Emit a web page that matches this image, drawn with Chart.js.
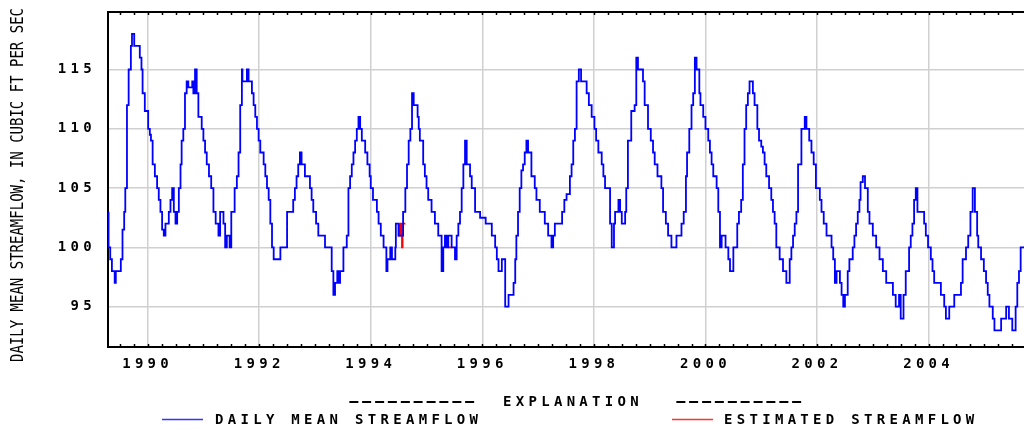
<!DOCTYPE html>
<html>
<head>
<meta charset="utf-8">
<script src="https://cdn.jsdelivr.net/npm/chart.js@4/dist/chart.umd.min.js"></script>
<style>
  html, body { margin: 0; padding: 0; background: #fff; }
  #wrap { width: 1024px; height: 432px; position: relative; }
</style>
</head>
<body>
<div id="wrap"><canvas id="flowChart"></canvas></div>
<script>
// Daily mean streamflow (decimal year -> cfs)
var flowYears = [
    1989.30, 1989.33, 1989.36, 1989.41, 1989.43, 1989.52, 1989.55, 1989.58, 1989.60, 1989.63,
    1989.66, 1989.70, 1989.72, 1989.76, 1989.86, 1989.89, 1989.91, 1989.95, 1990.01, 1990.04,
    1990.06, 1990.09, 1990.13, 1990.17, 1990.20, 1990.23, 1990.26, 1990.29, 1990.32, 1990.38,
    1990.41, 1990.44, 1990.47, 1990.50, 1990.53, 1990.56, 1990.59, 1990.61, 1990.64, 1990.67,
    1990.70, 1990.73, 1990.80, 1990.82, 1990.85, 1990.88, 1990.91, 1990.97, 1991.00, 1991.03,
    1991.06, 1991.10, 1991.14, 1991.18, 1991.22, 1991.27, 1991.30, 1991.36, 1991.39, 1991.42,
    1991.47, 1991.50, 1991.56, 1991.60, 1991.63, 1991.66, 1991.69, 1991.70, 1991.78, 1991.81,
    1991.84, 1991.87, 1991.90, 1991.93, 1991.96, 1991.99, 1992.02, 1992.08, 1992.11, 1992.14,
    1992.17, 1992.20, 1992.23, 1992.26, 1992.38, 1992.50, 1992.61, 1992.64, 1992.67, 1992.70,
    1992.73, 1992.76, 1992.82, 1992.91, 1992.94, 1992.97, 1993.02, 1993.06, 1993.18, 1993.30,
    1993.33, 1993.36, 1993.40, 1993.42, 1993.45, 1993.51, 1993.57, 1993.60, 1993.63, 1993.66,
    1993.69, 1993.72, 1993.75, 1993.78, 1993.81, 1993.84, 1993.90, 1993.94, 1993.98, 1994.00,
    1994.04, 1994.11, 1994.14, 1994.18, 1994.23, 1994.28, 1994.30, 1994.35, 1994.38, 1994.44,
    1994.45, 1994.50, 1994.58, 1994.62, 1994.65, 1994.68, 1994.71, 1994.74, 1994.77, 1994.84,
    1994.86, 1994.88, 1994.94, 1994.97, 1995.00, 1995.03, 1995.09, 1995.15, 1995.21, 1995.27,
    1995.30, 1995.33, 1995.36, 1995.39, 1995.45, 1995.51, 1995.54, 1995.57, 1995.60, 1995.63,
    1995.66, 1995.69, 1995.72, 1995.78, 1995.81, 1995.87, 1995.96, 1996.06, 1996.17, 1996.23,
    1996.26, 1996.29, 1996.35, 1996.41, 1996.47, 1996.56, 1996.59, 1996.61, 1996.64, 1996.67,
    1996.70, 1996.73, 1996.76, 1996.79, 1996.82, 1996.88, 1996.94, 1996.97, 1997.03, 1997.12,
    1997.18, 1997.24, 1997.27, 1997.30, 1997.43, 1997.47, 1997.51, 1997.57, 1997.60, 1997.63,
    1997.66, 1997.69, 1997.73, 1997.77, 1997.87, 1997.91, 1997.96, 1998.01, 1998.04, 1998.08,
    1998.14, 1998.17, 1998.20, 1998.29, 1998.32, 1998.36, 1998.38, 1998.44, 1998.47, 1998.50,
    1998.56, 1998.58, 1998.61, 1998.67, 1998.73, 1998.76, 1998.79, 1998.88, 1998.91, 1998.97,
    1999.02, 1999.06, 1999.09, 1999.14, 1999.21, 1999.24, 1999.29, 1999.33, 1999.39, 1999.48,
    1999.57, 1999.61, 1999.65, 1999.67, 1999.71, 1999.75, 1999.78, 1999.81, 1999.84, 1999.89,
    1999.91, 1999.96, 2000.00, 2000.05, 2000.08, 2000.11, 2000.14, 2000.20, 2000.23, 2000.26,
    2000.29, 2000.36, 2000.41, 2000.44, 2000.50, 2000.57, 2000.60, 2000.64, 2000.67, 2000.70,
    2000.73, 2000.76, 2000.79, 2000.85, 2000.88, 2000.93, 2000.96, 2001.00, 2001.03, 2001.06,
    2001.09, 2001.14, 2001.18, 2001.21, 2001.24, 2001.27, 2001.33, 2001.39, 2001.45, 2001.51,
    2001.54, 2001.57, 2001.60, 2001.63, 2001.66, 2001.72, 2001.78, 2001.81, 2001.86, 2001.90,
    2001.94, 2001.98, 2002.05, 2002.08, 2002.12, 2002.17, 2002.26, 2002.29, 2002.32, 2002.35,
    2002.41, 2002.44, 2002.47, 2002.50, 2002.55, 2002.58, 2002.64, 2002.67, 2002.70, 2002.73,
    2002.76, 2002.78, 2002.82, 2002.86, 2002.91, 2002.94, 2003.00, 2003.06, 2003.12, 2003.18,
    2003.24, 2003.36, 2003.41, 2003.47, 2003.50, 2003.55, 2003.59, 2003.65, 2003.68, 2003.71,
    2003.74, 2003.77, 2003.80, 2003.92, 2003.95, 2003.99, 2004.04, 2004.07, 2004.10, 2004.22,
    2004.28, 2004.31, 2004.37, 2004.46, 2004.58, 2004.61, 2004.67, 2004.71, 2004.75, 2004.79,
    2004.83, 2004.87, 2004.89, 2004.94, 2004.99, 2005.03, 2005.06, 2005.09, 2005.15, 2005.18,
    2005.30, 2005.39, 2005.44, 2005.50, 2005.56, 2005.59, 2005.62, 2005.65, 2005.71
];
var flowValues = [
    103, 100, 99, 98, 97, 98, 99, 101.5, 103, 105,
    112, 115, 117, 118, 117, 116, 115, 113, 111.5, 110,
    109.5, 109, 107, 106, 105, 104, 103, 101.5, 101, 102,
    103, 104, 105, 103, 102, 103, 105, 107, 109, 110,
    113, 114, 113.5, 114, 113, 115, 113, 111, 110, 109,
    108, 107, 106, 105, 103, 102, 101, 103, 102, 100,
    101, 100, 103, 105, 106, 108, 112, 115, 114, 115,
    114, 114, 113, 112, 111, 110, 109, 108, 107, 106,
    105, 104, 102, 100, 99, 100, 103, 104, 105, 106,
    107, 108, 107, 106, 105, 104, 103, 102, 101, 100,
    98, 96, 97, 98, 97, 98, 100, 101, 105, 106,
    107, 108, 109, 110, 111, 110, 109, 108, 107, 106,
    105, 104, 103, 102, 101, 100, 98, 99, 100, 99,
    100, 102, 101, 103, 105, 107, 109, 110, 113, 112,
    111, 110, 109, 107, 106, 105, 104, 103, 102, 101,
    98, 100, 101, 100, 101, 100, 99, 101, 102, 103,
    105, 107, 109, 107, 106, 105, 103, 102.5, 102, 101,
    100, 99, 98, 99, 95, 96, 97, 99, 101, 103,
    105, 106.5, 107, 108, 109, 108, 106, 105, 104, 103,
    102, 101, 100, 101, 102, 103, 104, 104.5, 106, 107,
    109, 110, 114, 115, 114, 113, 112, 111, 110, 109,
    108, 107, 106, 105, 102, 100, 102, 103, 104, 103,
    102, 103, 105, 109, 111.5, 112, 116, 115, 114, 112,
    110, 109, 108, 107, 106, 105, 103, 102, 101, 100,
    101, 102, 103, 106, 108, 110, 112, 113, 116, 115,
    113, 112, 111, 110, 109, 108, 107, 106, 105, 103,
    100, 101, 100, 99, 98, 100, 102, 103, 104, 107,
    110, 112, 113, 114, 113, 112, 110, 109, 108.5, 108,
    107, 106, 105, 104, 103, 102, 100, 99, 98, 97,
    99, 100, 101, 102, 103, 107, 110, 111, 110, 109,
    108, 107, 105, 104, 103, 102, 101, 100, 99, 97,
    98, 97, 96, 95, 96, 98, 99, 100, 101, 102,
    103, 104, 105.5, 106, 105, 103, 102, 101, 100, 99,
    98, 97, 96, 95, 96, 94, 96, 98, 100, 101,
    102, 104, 105, 103, 102, 101, 100, 99, 98, 97,
    96, 95, 94, 95, 96, 97, 99, 100, 101, 103,
    105, 103, 101, 100, 99, 98, 97, 96, 95, 94,
    93, 94, 95, 94, 93, 95, 97, 98, 100
];

// Estimated streamflow (red) segments, null breaks the line
var estYears = [1994.50, 1994.53, 1994.56, 1994.57, 1994.58, 1994.62, 1995.37, 1995.38, 1995.45];
var estValues = [102, 101, 102, 100, 102, 102, null, 100, 100];

var xTickYears = [1990, 1992, 1994, 1996, 1998, 2000, 2002, 2004];
var yTickValues = [95, 100, 105, 110, 115];

var monoFamily = '"DejaVu Sans Mono", "Liberation Mono", monospace';
var labelFont = 'bold 14px ' + monoFamily;

function toPoints(xs, ys) {
    return xs.map(function (x, i) { return { x: x, y: ys[i] }; });
}

// wide pixel-font dashes: stretched hyphens
function drawDashes(ctx, text, x, y) {
    ctx.save();
    ctx.translate(x, y);
    ctx.scale(2.1, 1);
    ctx.letterSpacing = '-2.3px';
    ctx.fillText(text, 0, 0);
    ctx.restore();
}

// Quarter-year tick marks inside the frame, top border, axis title and explanation
var usgsFrame = {
    id: 'usgsFrame',
    beforeDraw: function (chart) {
        chart.ctx.letterSpacing = '4.3px';
    },
    afterDraw: function (chart) {
        var ctx = chart.ctx;
        var area = chart.chartArea;
        var xs = chart.scales.x;
        ctx.save();
        ctx.strokeStyle = '#000';
        ctx.lineWidth = 1.5;
        ctx.beginPath();
        for (var q = 1989.5; q < 2005.71; q += 0.25) {
            var px = Math.round(xs.getPixelForValue(q)) + 0.5;
            ctx.moveTo(px, area.bottom - 3);
            ctx.lineTo(px, area.bottom);
            ctx.moveTo(px, area.top);
            ctx.lineTo(px, area.top + 3);
        }
        ctx.stroke();
        ctx.lineWidth = 2;
        ctx.beginPath();
        ctx.moveTo(area.left, area.top);
        ctx.lineTo(area.right, area.top);
        ctx.stroke();

        // y axis title
        ctx.letterSpacing = '0px';
        ctx.fillStyle = '#000';
        ctx.font = '14px ' + monoFamily;
        ctx.translate(18.5, 185);
        ctx.rotate(-Math.PI / 2);
        ctx.scale(1, 1.27);
        ctx.textAlign = 'center';
        ctx.textBaseline = 'middle';
        ctx.fillText('DAILY MEAN STREAMFLOW, IN CUBIC FT PER SEC', 0, 0);
        ctx.restore();

        // explanation block
        ctx.save();
        ctx.letterSpacing = '4.3px';
        ctx.font = labelFont;
        ctx.fillStyle = '#000';
        ctx.textAlign = 'left';
        ctx.textBaseline = 'middle';
        drawDashes(ctx, '----------', 345, 402);
        ctx.fillText('EXPLANATION', 503, 402);
        drawDashes(ctx, '----------', 672, 402);
        ctx.fillText('DAILY MEAN STREAMFLOW', 215, 420);
        ctx.fillText('ESTIMATED STREAMFLOW', 724, 420);
        ctx.lineWidth = 1.5;
        ctx.strokeStyle = '#3333ff';
        ctx.beginPath();
        ctx.moveTo(162, 419.5);
        ctx.lineTo(203, 419.5);
        ctx.stroke();
        ctx.strokeStyle = '#ff3333';
        ctx.beginPath();
        ctx.moveTo(672, 419.5);
        ctx.lineTo(713, 419.5);
        ctx.stroke();
        ctx.restore();
    }
};

document.addEventListener('DOMContentLoaded', function () {
    var ctx = document.getElementById('flowChart');
    new Chart(ctx, {
        type: 'line',
        data: {
            datasets: [{
                label: 'DAILY MEAN STREAMFLOW',
                data: toPoints(flowYears, flowValues),
                borderColor: '#0000ff',
                borderWidth: 1.8,
                stepped: 'after',
                pointRadius: 0,
                fill: false
            }, {
                label: 'ESTIMATED STREAMFLOW',
                data: toPoints(estYears, estValues),
                borderColor: '#ff0000',
                borderWidth: 1.8,
                stepped: 'after',
                pointRadius: 0,
                fill: false,
                spanGaps: false
            }]
        },
        options: {
            responsive: true,
            maintainAspectRatio: false,
            animation: false,
            layout: {
                padding: { top: 12, right: 0, bottom: 0, left: 0 }
            },
            plugins: {
                legend: { display: false },
                tooltip: { enabled: false }
            },
            scales: {
                x: {
                    type: 'linear',
                    min: 1989.29,
                    max: 2005.71,
                    afterBuildTicks: function (scale) {
                        scale.ticks = xTickYears.map(function (v) { return { value: v }; });
                    },
                    afterFit: function (scale) {
                        scale.height = 85;
                        scale.paddingLeft = 0;
                        scale.paddingRight = 0;
                    },
                    grid: {
                        color: '#d0d0d0',
                        lineWidth: 1.5,
                        drawTicks: false
                    },
                    border: { color: '#000', width: 2 },
                    ticks: {
                        color: '#000',
                        padding: 9,
                        maxRotation: 0,
                        autoSkip: false,
                        font: { family: monoFamily, size: 14, weight: 'bold' },
                        callback: function (v) { return String(v); }
                    }
                },
                y: {
                    min: 91.6,
                    max: 119.85,
                    afterBuildTicks: function (scale) {
                        scale.ticks = yTickValues.map(function (v) { return { value: v }; });
                    },
                    afterFit: function (scale) {
                        scale.width = 108;
                        scale.paddingTop = 0;
                        scale.paddingBottom = 0;
                    },
                    grid: {
                        color: '#d0d0d0',
                        lineWidth: 1.5,
                        drawTicks: false
                    },
                    border: { color: '#000', width: 2 },
                    ticks: {
                        color: '#000',
                        padding: 12,
                        font: { family: monoFamily, size: 14, weight: 'bold' },
                        callback: function (v) { return String(v); }
                    }
                }
            }
        },
        plugins: [usgsFrame]
    });
});
</script>
</body>
</html>
